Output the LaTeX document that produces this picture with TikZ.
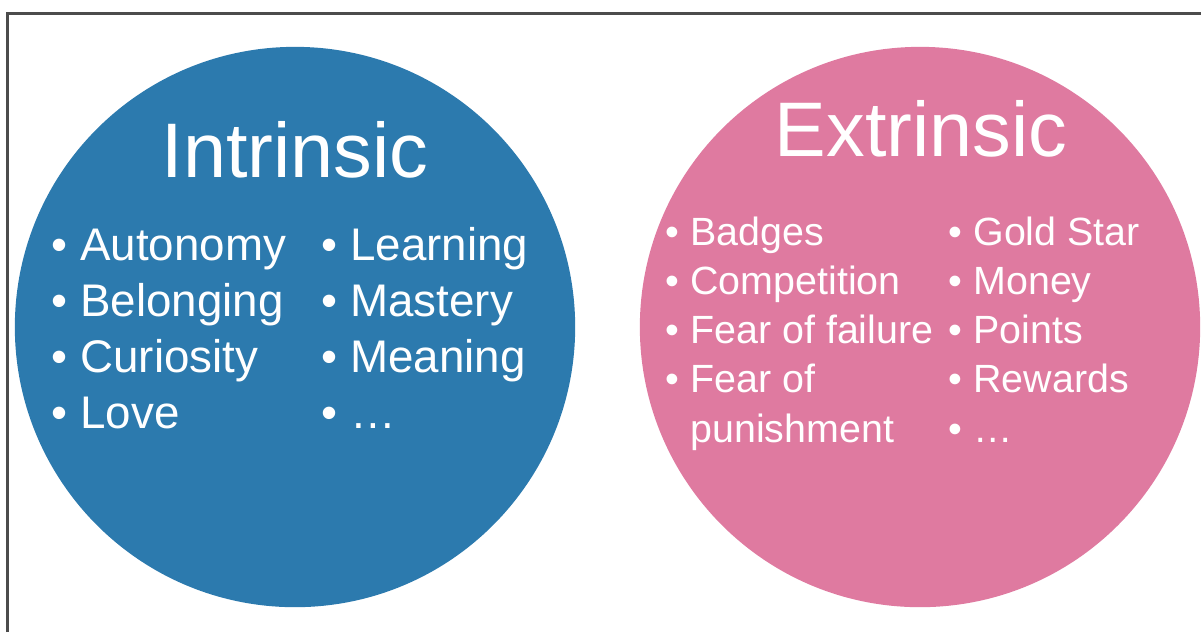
\documentclass[tikz,border=0pt]{standalone}
\usepackage{fontspec}
\setmainfont{Liberation Sans}
\definecolor{intrblue}{RGB}{44,122,174}
\definecolor{extrpink}{RGB}{223,122,160}

\begin{document}
\begin{tikzpicture}[x=0.01cm,y=-0.01cm,
    disc/.style={circle,inner sep=0pt,minimum size=5.6cm},
    title/.style={text=white,anchor=base,inner sep=0pt,font=\fontsize{22}{26}\selectfont},
    bigitem/.style={text=white,anchor=base west,inner sep=0pt,font=\fontsize{13}{16}\selectfont},
    smallitem/.style={text=white,anchor=base west,inner sep=0pt,font=\fontsize{11.2}{14}\selectfont}]

\useasboundingbox (0,0) rectangle (1201,632);

% frame of the screenshot
\coordinate (fb) at (7.5,632);
\coordinate (fc) at (7.5,13.5);
\coordinate (fr) at (1201,13.5);
\draw [line width=0.6pt,black!70] (fb) -- (fc) -- (fr);

\node [disc,fill=intrblue] (intr) at (295,327) {};
\node [disc,fill=extrpink] (extr) at (920,327) {};

\node [title] (intrtitle) at (295,177) {Intrinsic};
\node [title] (extrtitle) at (921,156) {Extrinsic};

\foreach \w [count=\i from 0] in {Autonomy,Belonging,Curiosity,Love}
    \node [bigitem] (intra\i) at (51,{260+56*\i}) {\textbullet\ \w};

\foreach \w [count=\i from 0] in {Learning,Mastery,Meaning,\ldots}
    \node [bigitem] (intrb\i) at (321,{260+56*\i}) {\textbullet\ \w};

\foreach \w [count=\i from 0] in {Badges,Competition,Fear of failure,Fear of,{\phantom{\textbullet}\ punishment}}
    \node [smallitem] (extra\i) at (665,{245+49.3*\i}) {\ifnum\i<4 \textbullet\ \fi\w};

\foreach \w [count=\i from 0] in {Gold Star,Money,Points,Rewards,\ldots}
    \node [smallitem] (extrb\i) at (948,{245+49.3*\i}) {\textbullet\ \w};

\end{tikzpicture}
\end{document}
